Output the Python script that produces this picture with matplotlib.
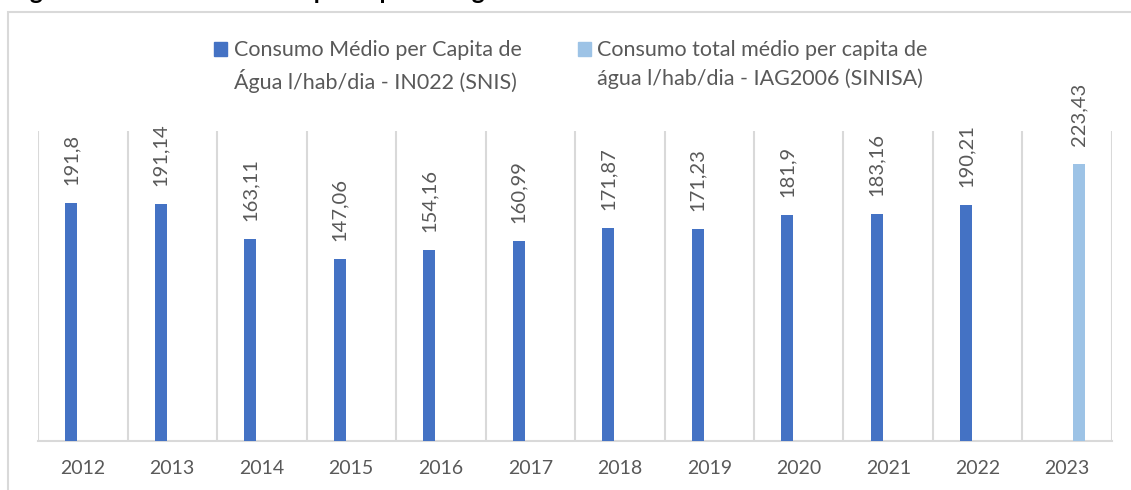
import matplotlib.pyplot as plt
import numpy as np
from matplotlib.patches import Rectangle, Patch

years = ['2012', '2013', '2014', '2015', '2016', '2017', '2018', '2019', '2020', '2021', '2022', '2023']
snis = [191.8, 191.14, 163.11, 147.06, 154.16, 160.99, 171.87, 171.23, 181.9, 183.16, 190.21]
sinisa = [223.43]
sinisa_years = ['2023']

label_snis = ['Consumo Médio per Capita de', 'Água l/hab/dia - IN022 (SNIS)']
label_sinisa = ['Consumo total médio per capita de', 'água l/hab/dia - IAG2006 (SINISA)']
title = 'Figura 12 - Consumo médio per capita de água'

dark = '#4472C4'
light = '#9DC3E6'
grey = '#595959'
gridc = '#D9D9D9'

plt.rcParams['font.family'] = ['Lato', 'DejaVu Sans']

fig = plt.figure(figsize=(11.31, 4.90), dpi=100)
ax = fig.add_axes([0.0336, 0.1, 0.9496, 0.6327])

x = np.arange(len(years))
w = 0.135
off = 0.13
x1 = x[:len(snis)] - off
x2 = np.array([years.index(y) for y in sinisa_years]) + off

b1 = ax.bar(x1, snis, width=w, color=dark, zorder=3)
b2 = ax.bar(x2, sinisa, width=w, color=light, zorder=3)

def fmt(v):
    return f'{v:g}'.replace('.', ',')

for bars, vals in ((b1, snis), (b2, sinisa)):
    ax.bar_label(bars, labels=[fmt(v) for v in vals], rotation=90, padding=13,
                 color=grey, fontsize=14.5)

ax.set_xlim(-0.5, len(years) - 0.5)
ax.set_ylim(0, 250)
ax.set_xticks(x)
ax.set_xticklabels(years, fontsize=14, color=grey)
ax.set_xticks(np.arange(len(years) + 1) - 0.5, minor=True)
ax.tick_params(axis='x', which='both', length=0, pad=14)
ax.set_yticks([])
ax.grid(which='minor', axis='x', color=gridc, linewidth=1.5, zorder=0)
for s in ('top', 'left', 'right'):
    ax.spines[s].set_visible(False)
ax.spines['bottom'].set_color(gridc)
ax.spines['bottom'].set_linewidth(1.5)

# legend: marker beside the first line of each two-line label
blank = Patch(facecolor='none', edgecolor='none')
handles = [Patch(color=dark), blank, Patch(color=light), blank]
labels = label_snis + label_sinisa
fig.legend(handles, labels, loc='upper left', bbox_to_anchor=(0.172, 0.957), ncol=2,
           frameon=False, fontsize=15.5, handlelength=0.62, handleheight=0.62,
           handletextpad=0.3, columnspacing=2.6, labelspacing=0.38, labelcolor=grey)

# outer chart frame, cut by the image edges
fig.patches.append(Rectangle((8 / 1131, -0.1), 1.2, 0.9755 + 0.1, transform=fig.transFigure,
                             fill=False, edgecolor=gridc, linewidth=1.5))
fig.text(10 / 1131, 1.002, title, fontsize=17.5, fontweight='bold', color='black',
         va='baseline', ha='left')

fig.savefig('out.png', dpi=100)
